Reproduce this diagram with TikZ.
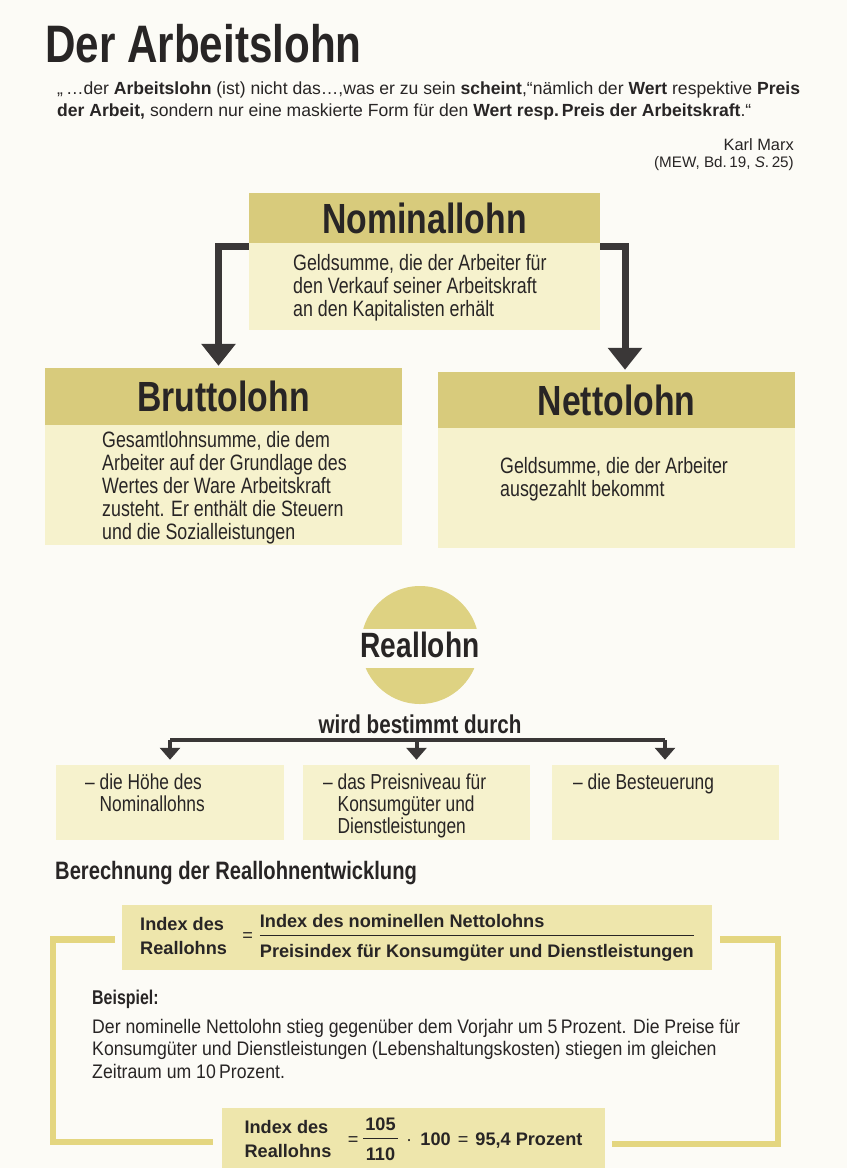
\documentclass[tikz,border=0pt]{standalone}
\usepackage{fontspec}
\setmainfont[FakeStretch=0.8]{Liberation Sans}
\newfontfamily\breit{Liberation Sans}
\newfontfamily\mittel[FakeStretch=0.9]{Liberation Sans}
\usetikzlibrary{arrows.meta,positioning}
\definecolor{khaki}{RGB}{216,203,124}
\definecolor{blassgelb}{RGB}{246,242,205}
\definecolor{kreisgelb}{RGB}{222,210,130}
\definecolor{formelgelb}{RGB}{238,230,172}
\definecolor{klammergelb}{RGB}{228,214,128}
\definecolor{pfeilgrau}{RGB}{58,55,55}
\definecolor{schrift}{RGB}{40,37,37}
\definecolor{papier}{RGB}{252,251,246}
\tikzset{
  kopf/.style={fill=khaki, inner sep=0pt, minimum width=#1, text=schrift, font=\bfseries\fontsize{36}{36}\selectfont},
  rumpf/.style={fill=blassgelb, inner sep=0pt, minimum width=#1},
  rumpftext/.style={anchor=west, align=left, inner sep=0pt, text=schrift, font=\fontsize{19}{19.6}\selectfont},
  dickpfeil/.style={draw=pfeilgrau, line width=0.21cm, -{Triangle[width=1cm,length=0.66cm]}},
  balken/.style={draw=pfeilgrau, line width=0.135cm},
  duennpfeil/.style={draw=pfeilgrau, line width=0.12cm, -{Triangle[width=0.6cm,length=0.36cm]}},
  faktor/.style={fill=blassgelb, inner sep=0pt, minimum width=6.81cm, minimum height=2.25cm},
  faktortext/.style={anchor=north west, align=left, inner sep=0pt, text=schrift, font=\fontsize{18.5}{18.4}\selectfont},
  formelkasten/.style={fill=formelgelb, inner sep=0pt, text=schrift, font=\breit\bfseries\fontsize{15.5}{20.5}\selectfont},
  klammer/.style={draw=klammergelb, line width=0.2cm},
}
\begin{document}
\begin{tikzpicture}[x=0.03cm, y=-0.03cm]
\useasboundingbox (0,0) rectangle (847,1168);
\fill[papier] (0,0) rectangle (847,1168);
\node[anchor=base west, inner sep=0pt, text=schrift, font=\bfseries\fontsize{45}{45}\selectfont] (titel) at (45,62) {Der Arbeitslohn};
\node[anchor=base west, inner sep=0pt, text=schrift, align=left, font=\breit\fontsize{15}{18}\selectfont] (zitat) at (57,116) {„\,…der \textbf{Arbeitslohn} (ist) nicht das…,was er zu sein \textbf{scheint},“nämlich der \textbf{Wert} respektive \textbf{Preis}\\\textbf{der Arbeit,} sondern nur eine maskierte Form für den \textbf{Wert resp.\,Preis der Arbeitskraft}.“};
\node[anchor=base east, inner sep=0pt, text=schrift, font=\breit\fontsize{14}{17}\selectfont] (marx) at (794,150) {Karl Marx};
\node[anchor=base east, inner sep=0pt, text=schrift, font=\breit\fontsize{13}{16}\selectfont] (quelle) at (794,167) {(MEW, Bd.\,19, \textit{S}.\,25)};

\node[kopf=10.53cm, minimum height=1.5cm] (nomkopf) at (424.5,218) {Nominallohn};
\node[rumpf=10.53cm, minimum height=2.61cm] (nomrumpf) at (424.5,286.5) {};
\node[rumpftext] (nomtext) at (293,288) {Geldsumme, die der Arbeiter für\\den Verkauf seiner Arbeitskraft\\an den Kapitalisten erhält};
\node[kopf=10.71cm, minimum height=1.71cm] (bruttokopf) at (223.5,396.5) {Bruttolohn};
\node[rumpf=10.71cm, minimum height=3.6cm] (bruttorumpf) at (223.5,485) {};
\node[rumpftext] (bruttotext) at (102,488) {Gesamtlohnsumme, die dem\\Arbeiter auf der Grundlage des\\Wertes der Ware Arbeitskraft\\zusteht. Er enthält die Steuern\\und die Sozialleistungen};
\node[kopf=10.71cm, minimum height=1.68cm] (nettokopf) at (616.5,400) {Nettolohn};
\node[rumpf=10.71cm, minimum height=3.6cm] (nettorumpf) at (616.5,488) {};
\node[rumpftext] (nettotext) at (500,479) {Geldsumme, die der Arbeiter\\ausgezahlt bekommt};
\draw[dickpfeil] ([shift={(0,4)}]nomrumpf.north west) -| ([shift={(-5,-2)}]bruttokopf.north);
\draw[dickpfeil] ([shift={(0,4)}]nomrumpf.north east) -| ([shift={(8.5,-2)}]nettokopf.north);

\node[circle, fill=kreisgelb, minimum size=3.54cm, inner sep=0pt] (kreis) at (420,645) {};
\fill[papier] (355,629) rectangle (485,668);
\node[inner sep=0pt, text=schrift, font=\bfseries\fontsize{30}{30}\selectfont] (reallohn) at (420,645) {Reallohn};
\node[inner sep=0pt, text=schrift, font=\bfseries\fontsize{22}{22}\selectfont] (bestimmt) at (420,724) {wird bestimmt durch};
\coordinate (verteiler) at (418,740);
\node[faktor] (hoehe) at (170,802.5) {};
\node[faktor] (preis) at (416.5,802.5) {};
\node[faktor] (steuer) at (665,802.5) {};
\node[faktortext] (hoehetext) at (85,774) {– die Höhe des\\\phantom{– }Nominallohns};
\node[faktortext] (preistext) at (323,774) {– das Preisniveau für\\\phantom{– }Konsumgüter und\\\phantom{– }Dienstleistungen};
\node[faktortext] (steuertext) at (573,774) {– die Besteuerung};
\draw[balken] (hoehe.north |- verteiler) -- (steuer.north |- verteiler);
\foreach \ziel in {hoehe,preis,steuer}
  \draw[duennpfeil] (\ziel.north |- verteiler) -- ([shift={(0,-5)}]\ziel.north);

\node[anchor=base west, inner sep=0pt, text=schrift, font=\bfseries\fontsize{21.5}{21.5}\selectfont] (berechnung) at (55,879) {Berechnung der Reallohnentwicklung};
\node[formelkasten, minimum width=17.7cm, minimum height=1.95cm] (formel) at (417,937.5) {\begin{tabular}{@{}l@{}}Index des\\Reallohns\end{tabular}\hspace{13pt}{\mdseries=}\hspace{6pt}\begin{tabular}{@{}l@{}}Index des nominellen Nettolohns\\\hline\rule{0pt}{19pt}Preisindex für Konsumgüter und Dienstleistungen\end{tabular}};
\node[anchor=base west, inner sep=0pt, text=schrift, font=\bfseries\fontsize{17}{17}\selectfont] (beispiel) at (92,1004) {Beispiel:};
\node[anchor=north west, align=left, inner sep=0pt, text=schrift, font=\mittel\fontsize{16.75}{19.2}\selectfont] (beispieltext) at (92,1019) {Der nominelle Nettolohn stieg gegenüber dem Vorjahr um 5\,Prozent. Die Preise für\\Konsumgüter und Dienstleistungen (Lebenshaltungskosten) stiegen im gleichen\\Zeitraum um 10\,Prozent.};
\node[formelkasten, minimum width=11.49cm, minimum height=1.98cm] (ergebnis) at (413.5,1141) {\begin{tabular}{@{}l@{}}Index des\\Reallohns\end{tabular}\hspace{14pt}{\mdseries=}\hspace{4pt}\begin{tabular}{@{\hspace{2pt}}c@{\hspace{2pt}}}105\\\hline\rule{0pt}{19pt}110\end{tabular}\hspace{7pt}{\mdseries·}\hspace{7pt}100\hspace{6pt}{\mdseries=}\hspace{6pt}95,4 Prozent};
\draw[klammer] ([shift={(-7,2)}]formel.west) -| (53,1142) -- ([shift={(-9,1)}]ergebnis.west);
\draw[klammer] ([shift={(8,2)}]formel.east) -| (778,1144) -- ([shift={(7,3)}]ergebnis.east);
\end{tikzpicture}
\end{document}
